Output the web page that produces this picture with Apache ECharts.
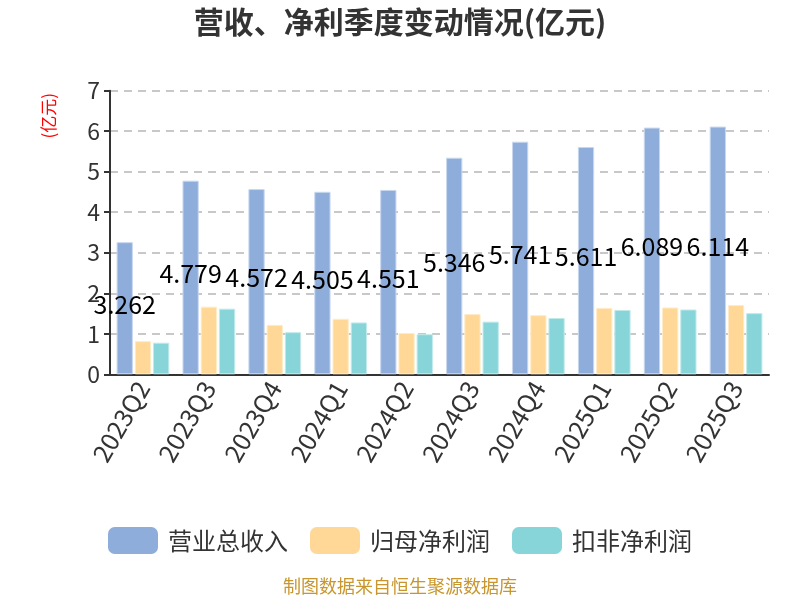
<!DOCTYPE html>
<html>
<head>
<meta charset="utf-8">
<script src="https://cdn.jsdelivr.net/npm/echarts@6/dist/echarts.min.js"></script>
<style>html,body{margin:0;padding:0;background:#fff}#c{width:800px;height:600px}</style>
</head>
<body>
<div id="c"></div>
<script>
const categories = ['2023Q2','2023Q3','2023Q4','2024Q1','2024Q2','2024Q3','2024Q4','2025Q1','2025Q2','2025Q3'];
const revenue = [3.262,4.779,4.572,4.505,4.551,5.346,5.741,5.611,6.089,6.114];
const netProfit = [0.82,1.67,1.22,1.37,1.02,1.49,1.46,1.64,1.65,1.71];
const deductedProfit = [0.78,1.62,1.04,1.28,0.99,1.30,1.39,1.59,1.60,1.51];
const yTicks = [0,1,2,3,4,5,6,7];

const font = '"Noto Sans CJK SC", "Noto Sans", sans-serif';
const chart = echarts.init(document.getElementById('c'));
chart.setOption({
  animation: false,
  textStyle: {fontFamily: font},
  title: {
    text: '营收、净利季度变动情况(亿元)',
    left: 'center', top: 2,
    textStyle: {fontSize: 30, fontWeight: 'bold', color: '#333', fontFamily: font}
  },
  graphic: [{
    type: 'text', left: 40, top: 93, rotation: Math.PI / 2,
    style: {text: '(亿元)', fill: '#ff0000', fontSize: 17, fontFamily: font}
  }, {
    type: 'text', left: 'center', top: 577,
    style: {text: '制图数据来自恒生聚源数据库', fill: '#C8962C', fontSize: 18, fontFamily: font}
  }],
  legend: {
    top: 522, left: 'center',
    icon: 'roundRect',
    itemWidth: 50, itemHeight: 27, itemGap: 22,
    itemStyle: {borderWidth: 0},
    textStyle: {fontSize: 24, color: '#333', fontFamily: font, padding: [0, 0, 0, 5]},
    data: ['营业总收入','归母净利润','扣非净利润']
  },
  grid: {left: 110, right: 31, top: 90.7, bottom: 225.7},
  xAxis: {
    type: 'category', data: categories,
    axisLine: {lineStyle: {color: '#333', width: 2}},
    axisTick: {length: 7, lineStyle: {color: '#333', width: 2}},
    axisLabel: {rotate: 60, fontSize: 25, color: '#333', margin: 9, fontFamily: font}
  },
  yAxis: {
    type: 'value', min: yTicks[0], max: yTicks[yTicks.length - 1], interval: 1,
    axisLine: {show: true, lineStyle: {color: '#333', width: 2}},
    axisTick: {show: true, length: 6, lineStyle: {color: '#333', width: 2}},
    axisLabel: {fontSize: 23, color: '#333', margin: 10, fontFamily: font},
    splitLine: {lineStyle: {type: [8, 6], color: '#c8c8c8', width: 2}}
  },
  series: [{
    name: '营业总收入', type: 'bar', data: revenue,
    barGap: '12%', barCategoryGap: '20%',
    itemStyle: {color: '#8EADDB', borderColor: '#c9d8ef', borderWidth: 1},
    label: {show: true, position: 'inside', offset: [0, -4], fontSize: 25, color: '#000', fontFamily: font}
  }, {
    name: '归母净利润', type: 'bar', data: netProfit,
    itemStyle: {color: '#FFD898', borderColor: '#ffecc9', borderWidth: 1}
  }, {
    name: '扣非净利润', type: 'bar', data: deductedProfit,
    itemStyle: {color: '#87D5D8', borderColor: '#c3eaeb', borderWidth: 1}
  }]
});
</script>
</body>
</html>
